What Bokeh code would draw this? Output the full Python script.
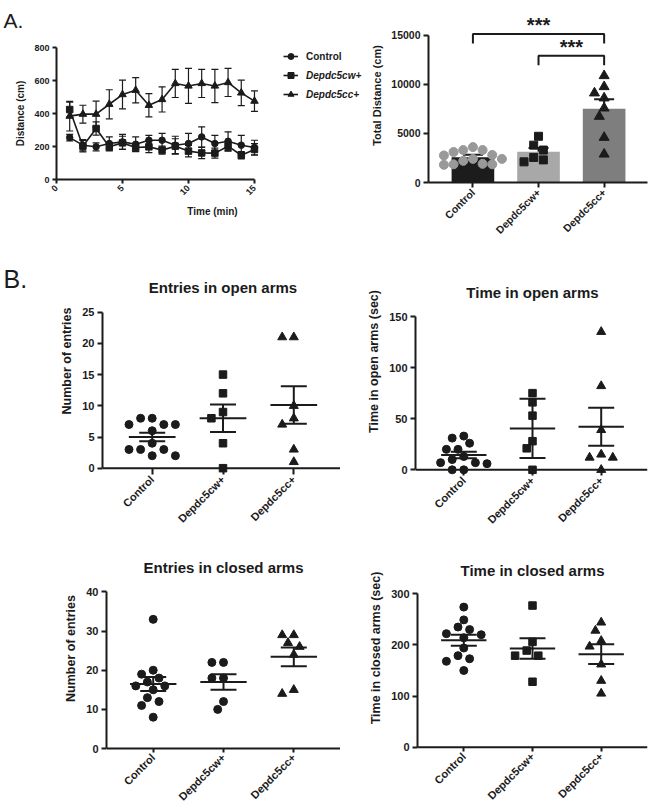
import numpy as np
from math import pi
from bokeh.plotting import figure
from bokeh.layouts import column, row
from bokeh.models import (ColumnDataSource, Whisker, TeeHead, Legend, LegendItem,
                          Range1d, FixedTicker, Label, Span)
from bokeh.core.properties import value
from bokeh.embed import file_html
from bokeh.resources import INLINE

FONT = "Liberation Sans"
INK = "#1b1b1b"

# ---------------- data ----------------
groups = ["Control", "Depdc5cw+", "Depdc5cc+"]

minutes = list(range(1, 16))
ctrl_mean = [254, 208, 198, 218, 228, 214, 238, 238, 208, 218, 258, 218, 232, 208, 194]
ctrl_sem = [20, 34, 24, 40, 45, 44, 30, 41, 54, 61, 61, 50, 57, 60, 44]
cw_mean = [424, 202, 309, 198, 222, 194, 198, 178, 202, 172, 161, 160, 202, 147, 182]
cw_sem = [45, 35, 40, 25, 40, 25, 35, 25, 45, 35, 34, 30, 30, 22, 35]
cc_mean = [384, 396, 396, 456, 515, 541, 450, 485, 582, 567, 582, 567, 588, 525, 475]
cc_sem = [90, 54, 79, 88, 87, 77, 71, 76, 85, 106, 85, 101, 85, 77, 62]
line_xticks = [0, 5, 10, 15]
line_yticks = [0, 200, 400, 600, 800]

total_ctrl = [3600, 3300, 3300, 3100, 2800, 2750, 2400, 2400, 2200, 1900, 1850, 1850, 1800]
total_cw = [4700, 3800, 3300, 2550, 2300, 2100]
total_cc = [10860, 9740, 9100, 8590, 7570, 6720, 4580, 2880]
total_err = [270, 380, 960]
total_yticks = [0, 5000, 10000, 15000]
sig_pairs = [(0, 2), (1, 2)]
sig_text = ["***", "***"]

eo_ctrl = [8, 8, 7, 7, 7, 6, 4, 3, 3, 3, 2, 2]
eo_cw = [15, 12, 9, 8, 4, 0]
eo_cc = [21, 21, 10, 8, 7, 3, 1]
eo_err = [0.69, 2.2, 3.0]
eo_yticks = [0, 5, 10, 15, 20, 25]

to_ctrl = [33, 31, 26, 20, 20, 13, 10, 7, 7, 6, 0, 0]
to_cw = [75, 66, 53, 28, 21, 0]
to_cc = [135, 82, 39, 15, 12, 12, 0]
to_err = [3.2, 29, 18.5]
to_yticks = [0, 50, 100, 150]

ec_ctrl = [33, 20, 19, 18, 17, 16, 16, 15, 13, 12, 11, 8]
ec_cw = [22, 22, 18, 18, 12, 10]
ec_cc = [29, 29, 27, 26, 24, 15, 14]
ec_err = [1.8, 2.0, 2.4]
ec_yticks = [0, 10, 20, 30, 40]

tc_ctrl = [274, 249, 235, 230, 222, 220, 214, 194, 179, 173, 168, 150]
tc_cw = [277, 206, 189, 179, 179, 128]
tc_cc = [244, 228, 208, 197, 162, 130, 105]
tc_err = [10.7, 20, 19.5]
tc_yticks = [0, 100, 200, 300]


# ---------------- helpers ----------------
def make_fig(w, h, left, top, bottom, right, xr, yr, **kw):
    p = figure(width=w, height=h, x_range=Range1d(*xr), y_range=Range1d(*yr),
               output_backend="svg", toolbar_location=None, title=None,
               min_border_left=left, min_border_right=right,
               min_border_top=top, min_border_bottom=bottom,
               background_fill_color="white", border_fill_color="white", **kw)
    p.grid.visible = False
    p.outline_line_color = None
    return p


def letter_fig(w, h, letter, x, y, size):
    p = make_fig(w, h, 0, 0, 0, 0, (0, w), (h, 0), x_axis_type=None, y_axis_type=None)
    p.add_layout(Label(x=x, y=y, text=letter, text_font=FONT, text_font_size=size,
                       text_color=INK, text_baseline="alphabetic", text_align="left"))
    return p


def style_axes(p, tick_size, label_size):
    for ax in (p.xaxis[0], p.yaxis[0]):
        ax.axis_line_width = 2
        ax.axis_line_color = INK
        ax.major_tick_line_width = 2
        ax.major_tick_line_color = INK
        ax.major_tick_out = 5
        ax.major_tick_in = 0
        ax.minor_tick_line_color = None
        ax.major_label_text_font = FONT
        ax.major_label_text_font_style = "bold"
        ax.major_label_text_font_size = tick_size
        ax.major_label_text_color = INK
        ax.major_label_standoff = 3
        ax.axis_label_text_font = FONT
        ax.axis_label_text_font_style = "bold"
        ax.axis_label_text_font_size = label_size
        ax.axis_label_text_color = INK
        ax.axis_label_standoff = 5


def swarm(vals, ppx, ppy, step, mind):
    """Beeswarm offsets (data units) computed in pixel space."""
    vals = np.asarray(vals, float)
    order = np.argsort(-vals, kind="stable")
    cands = [0.0] + [s * k * step for k in range(1, 60) for s in (-1, 1)]
    placed = []
    offs = np.zeros(len(vals))
    for i in order:
        py = vals[i] * ppy
        for c in cands:
            if all((c - qx) ** 2 + (py - qy) ** 2 >= mind ** 2 for qx, qy in placed):
                placed.append((c, py))
                offs[i] = c / ppx
                break
    return offs


cat_labels = {i + 1: g for i, g in enumerate(groups)}

# ---------------- A: distance over time ----------------
a_fig = letter_fig(368, 41, "A.", 3, 20, "21px")

L_W, L_H, L_L, L_T, L_B, L_R = 368, 202, 56, 6, 64, 0
L_XR, L_YR = (0, 23.64), (0, 800)
lp = make_fig(L_W, L_H, L_L, L_T, L_B, L_R, L_XR, L_YR)
style_axes(lp, "9px", "10px")
lp.xaxis.ticker = FixedTicker(ticks=line_xticks)
lp.yaxis.ticker = FixedTicker(ticks=line_yticks)
lp.xaxis.bounds = (line_xticks[0], line_xticks[-1])
lp.xaxis.major_label_orientation = pi / 4
lp.xaxis.axis_label = "Time (min)"
lp.yaxis.axis_label = "Distance (cm)"
lp.xaxis.major_tick_out = 4
lp.yaxis.major_tick_out = 4

rends = []
for m, s, mk, sz in [(ctrl_mean, ctrl_sem, "circle", 6.5),
                     (cw_mean, cw_sem, "square", 6.5),
                     (cc_mean, cc_sem, "triangle", 7.5)]:
    m = np.asarray(m, float)
    s = np.asarray(s, float)
    src = ColumnDataSource(dict(t=minutes, m=m, lo=m - s, hi=m + s))
    lp.add_layout(Whisker(source=src, base="t", lower="lo", upper="hi",
                          line_color=INK, line_width=1.2,
                          upper_head=TeeHead(size=7, line_color=INK, line_width=1.2),
                          lower_head=TeeHead(size=7, line_color=INK, line_width=1.2)))
    ln = lp.line("t", "m", source=src, line_color=INK, line_width=1.6)
    sc = lp.scatter("t", "m", source=src, marker=mk, size=sz, fill_color=INK, line_color=INK)
    rends.append((ln, sc))

leg1 = Legend(items=[LegendItem(label=groups[0], renderers=list(rends[0]))],
              location=(227, 115))
leg2 = Legend(items=[LegendItem(label=groups[1], renderers=list(rends[1])),
                     LegendItem(label=groups[2], renderers=list(rends[2]))],
              location=(227, 77))
leg1.label_text_font_style = "bold"
leg2.label_text_font_style = "bold italic"
for lg in (leg1, leg2):
    lg.border_line_color = None
    lg.background_fill_alpha = 0
    lg.padding = 0
    lg.margin = 0
    lg.spacing = 3
    lg.glyph_width = 15
    lg.glyph_height = 16
    lg.label_height = 16
    lg.label_standoff = 8
    lg.label_text_font = FONT
    lg.label_text_font_size = "10px"
    lg.label_text_color = INK
    lp.add_layout(lg)

# ---------------- A: total distance bars ----------------
B_W, B_H, B_L, B_T, B_B, B_R = 282, 243, 57, 8, 61, 3
B_XR, B_YR = (0.323, 3.661), (0, 17700)
bp = make_fig(B_W, B_H, B_L, B_T, B_B, B_R, B_XR, B_YR)
style_axes(bp, "10.5px", "11px")
bp.yaxis.ticker = FixedTicker(ticks=total_yticks)
bp.yaxis.bounds = (total_yticks[0], total_yticks[-1])
bp.xaxis.ticker = FixedTicker(ticks=[1, 2, 3])
bp.xaxis.major_label_overrides = cat_labels
bp.xaxis.major_label_orientation = pi / 4
bp.yaxis.axis_label = "Total Distance (cm)"

totals = [total_ctrl, total_cw, total_cc]
bar_means = [float(np.mean(v)) for v in totals]
bar_src = ColumnDataSource(dict(x=[1, 2, 3], top=bar_means,
                                up=[m + e for m, e in zip(bar_means, total_err)],
                                color=["#1c1c1c", "#a8a8a8", "#7e7e7e"]))
bp.vbar(x="x", top="top", width=0.65, fill_color="color", line_color=None, source=bar_src)
bp.add_layout(Whisker(source=bar_src, base="x", lower="top", upper="up", line_color=INK,
                      line_width=2, lower_head=None,
                      upper_head=TeeHead(size=20, line_color=INK, line_width=2)))

B_FW = B_W - B_L - B_R
B_FH = B_H - B_T - B_B
bppx = B_FW / (B_XR[1] - B_XR[0])
bppy = B_FH / (B_YR[1] - B_YR[0])
for i, (vals, mk, col, sz) in enumerate([(total_ctrl, "circle", "#999999", 9),
                                         (total_cw, "square", INK, 8),
                                         (total_cc, "triangle", INK, 10)]):
    offs = swarm(vals, bppx, bppy, 4.9, 9.0)
    bp.scatter(x=list(i + 1 + offs), y=vals, marker=mk, size=sz, fill_color=col, line_color=col)

top_tick = total_yticks[-1]
levels = [top_tick * 1.007, top_tick * 0.86]
for (a, b), lvl, txt in zip(sig_pairs, levels, sig_text):
    drop = top_tick * 0.065
    bp.line(x=[a + 1, a + 1, b + 1, b + 1], y=[lvl - drop, lvl, lvl, lvl - drop],
            line_color=INK, line_width=2)
    bp.text(x=[(a + b) / 2 + 1], y=[lvl + top_tick * 0.06], text=[txt],
            text_font=value(FONT), text_font_size="20px", text_font_style="bold",
            text_align="center", text_baseline="middle", text_color=INK)


# ---------------- B: elevated plus maze panels ----------------
def dot_panel(g, yticks, title, ylabel, datasets, markers, errs):
    """g: page-pixel geometry of the panel (canvas, axis positions, category spacing)."""
    x0, w, y0, h = g["x0"], g["w"], g["y0"], g["h"]
    L = int(round(g["axis_x"] - x0))
    R = int(round(x0 + w - g["frame_r"]))
    T = int(round(g["ft"] - y0))
    fb = int(round(g["y_zero"] + g["pad"]))
    B = y0 + h - fb
    sp = g["sp"]
    xs0 = 1 - (g["c1"] - (x0 + L)) / sp
    xr = (xs0, xs0 + (w - L - R) / sp)
    ppy = (g["y_zero"] - g["y_top"]) / yticks[-1]
    yr = (-(fb - g["y_zero"]) / ppy, (g["y_zero"] - (y0 + T)) / ppy)
    p = make_fig(w, h, L, T, B, R, xr, yr)
    style_axes(p, "11px", "12.5px")
    p.xaxis.ticker = FixedTicker(ticks=[1, 2, 3])
    p.xaxis.major_label_overrides = cat_labels
    p.xaxis.major_label_orientation = pi / 4
    p.xaxis.axis_line_color = None
    p.xaxis.major_tick_in = int(round(fb - g["y_zero"]))
    p.xaxis.major_tick_out = 0
    p.yaxis.ticker = FixedTicker(ticks=yticks)
    p.yaxis.bounds = (yticks[0], yticks[-1])
    p.yaxis.axis_label = ylabel
    p.add_layout(Span(location=0, dimension="width", line_color=INK, line_width=2))
    p.text(x=[2], y=[(g["y_zero"] - g["title_y"]) / ppy], text=[title],
           text_font=value(FONT), text_font_size="15px", text_font_style="bold",
           text_align="center", text_baseline="middle", text_color=INK)
    means = [float(np.mean(v)) for v in datasets]
    xs = [1, 2, 3]
    for xc, vals, (mk, sz) in zip(xs, datasets, markers):
        offs = swarm(vals, sp, ppy, 5.8, 9.0)
        p.scatter(x=list(xc + offs), y=vals, marker=mk, size=sz, fill_color=INK, line_color=INK)
    src = ColumnDataSource(dict(x=xs, m=means,
                                lo=[m - e for m, e in zip(means, errs)],
                                hi=[m + e for m, e in zip(means, errs)],
                                xl=[x - 0.33 for x in xs], xr=[x + 0.33 for x in xs]))
    p.segment(x0="xl", x1="xr", y0="m", y1="m", source=src, line_color=INK, line_width=2)
    p.add_layout(Whisker(source=src, base="x", lower="lo", upper="hi", line_color=INK,
                         line_width=2,
                         upper_head=TeeHead(size=26, line_color=INK, line_width=2),
                         lower_head=TeeHead(size=26, line_color=INK, line_width=2)))
    return p


CIR = ("circle", 8)
SQ = ("square", 7.5)
TRI = ("triangle", 9)

b_fig = letter_fig(30, 297, "B.", 3, 35, "25px")

eo = dot_panel(dict(x0=30, w=310, y0=243, h=297, axis_x=101.7, frame_r=340, c1=151.7, sp=70.8,
                    ft=247, y_top=311.7, y_zero=467.7, pad=6, title_y=287),
               eo_yticks, "Entries in open arms", "Number of entries",
               [eo_ctrl, eo_cw, eo_cc], [CIR, SQ, TRI], eo_err)
to = dot_panel(dict(x0=340, w=310, y0=243, h=297, axis_x=415, frame_r=647, c1=463.3, sp=68.7,
                    ft=247, y_top=316, y_zero=469.3, pad=6, title_y=292),
               to_yticks, "Time in open arms", "Time in open arms (sec)",
               [to_ctrl, to_cw, to_cc], [CIR, SQ, TRI], to_err)
ec = dot_panel(dict(x0=0, w=340, y0=540, h=270, axis_x=106, frame_r=340, c1=152.7, sp=70.3,
                    ft=544, y_top=591.7, y_zero=749, pad=4, title_y=567),
               ec_yticks, "Entries in closed arms", "Number of entries",
               [ec_ctrl, ec_cw, ec_cc], [CIR, CIR, TRI], ec_err)
tc = dot_panel(dict(x0=340, w=310, y0=540, h=270, axis_x=417.3, frame_r=647, c1=463.3, sp=68.7,
                    ft=544, y_top=593.3, y_zero=746.7, pad=4, title_y=569.5),
               tc_yticks, "Time in closed arms", "Time in closed arms (sec)",
               [tc_ctrl, tc_cw, tc_cc], [CIR, SQ, TRI], tc_err)

layout = column(row(column(column(a_fig), column(lp)), column(bp)),
                row(column(b_fig), column(eo), column(to)),
                row(column(ec), column(tc)))
open("out.html", "w").write(file_html(layout, INLINE))
